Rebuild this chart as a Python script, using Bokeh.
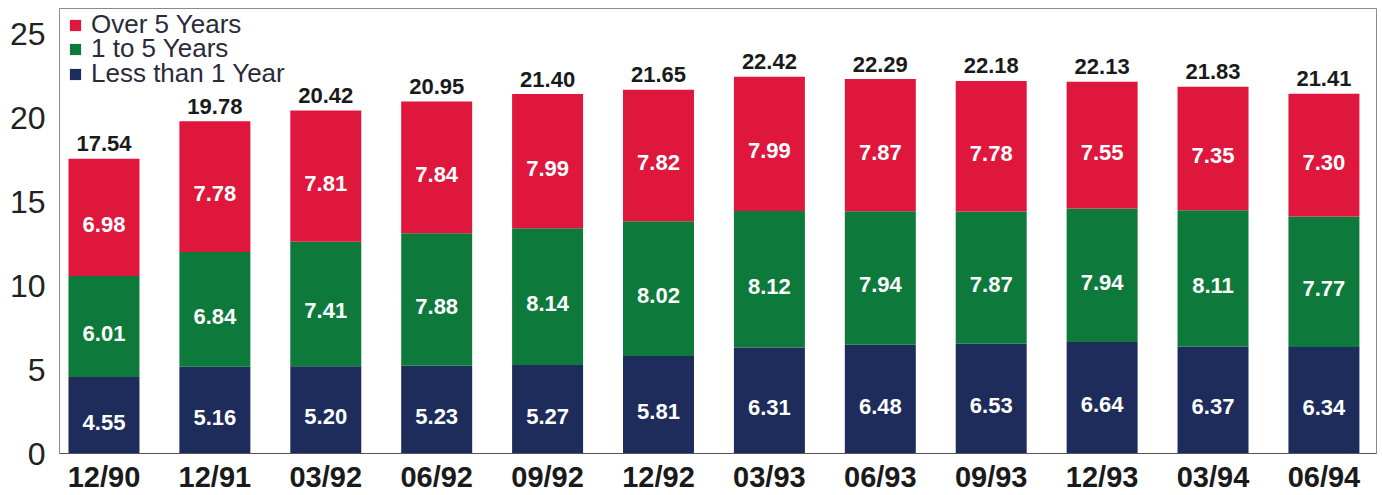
from bokeh.plotting import figure
from bokeh.models import ColumnDataSource, FixedTicker, Legend, LegendItem
from bokeh.core.properties import value
from bokeh.embed import file_html
from bokeh.resources import INLINE

periods = ["12/90", "12/91", "03/92", "06/92", "09/92", "12/92",
           "03/93", "06/93", "09/93", "12/93", "03/94", "06/94"]
less1 = [4.55, 5.16, 5.20, 5.23, 5.27, 5.81, 6.31, 6.48, 6.53, 6.64, 6.37, 6.34]
one5 = [6.01, 6.84, 7.41, 7.88, 8.14, 8.02, 8.12, 7.94, 7.87, 7.94, 8.11, 7.77]
over5 = [6.98, 7.78, 7.81, 7.84, 7.99, 7.82, 7.99, 7.87, 7.78, 7.55, 7.35, 7.30]
totals = [17.54, 19.78, 20.42, 20.95, 21.40, 21.65, 22.42, 22.29, 22.18, 22.13, 21.83, 21.41]
series_names = ["Less than 1 Year", "1 to 5 Years", "Over 5 Years"]
y_ticks = [0, 5, 10, 15, 20, 25]

RED = "#e0173d"
GREEN = "#0d7a3b"
NAVY = "#1d2c5a"
FONT = "Liberation Sans"

xs = list(range(len(periods)))
src = ColumnDataSource(dict(
    x=xs, less1=less1, one5=one5, over5=over5, totals=totals,
    m1=[a / 2 for a in less1],
    m2=[a + b / 2 for a, b in zip(less1, one5)],
    m3=[a + b + c / 2 for a, b, c in zip(less1, one5, over5)],
    t1=[f"{v:.2f}" for v in less1],
    t2=[f"{v:.2f}" for v in one5],
    t3=[f"{v:.2f}" for v in over5],
    tt=[f"{v:.2f}" for v in totals],
))

p = figure(width=1382, height=495, output_backend="svg", toolbar_location=None,
           x_range=(-0.401, 11.474), y_range=(0, 26.49),
           min_border_left=59, min_border_right=6, min_border_top=8, min_border_bottom=42)
p.background_fill_color = "white"
p.border_fill_color = "white"
p.outline_line_color = "#8a8a8a"
p.outline_line_width = 1
p.xgrid.visible = False
p.ygrid.visible = False

rs = p.vbar_stack(["less1", "one5", "over5"], x="x", width=0.64, source=src,
                  color=[NAVY, GREEN, RED], line_color=None)

for col, lab in (("m1", "t1"), ("m2", "t2"), ("m3", "t3")):
    p.text(x="x", y=col, text=lab, source=src, text_align="center",
           text_baseline="middle", y_offset=7, text_color="white",
           text_font=value(FONT), text_font_style="bold", text_font_size="22px")

p.text(x="x", y="totals", text="tt", source=src, text_align="center",
       text_baseline="alphabetic", y_offset=-15, text_color="#1a1a1a",
       text_font=value(FONT), text_font_style="bold", text_font_size="22px")

# one single-row legend per series so that the row pitch matches the original
legend_rows = [(2, 413), (1, 389), (0, 364)]
for idx, ypos in legend_rows:
    lg = Legend(items=[LegendItem(label=series_names[idx], renderers=[rs[idx]])],
                location=(9, ypos), margin=0, padding=0, spacing=0,
                glyph_width=14, glyph_height=14, label_standoff=9,
                label_text_font=FONT, label_text_font_size="26px",
                label_text_color="#2a2a3a",
                background_fill_alpha=0, border_line_alpha=0)
    p.add_layout(lg)

p.xaxis.ticker = FixedTicker(ticks=xs)
p.xaxis.major_label_overrides = {i: s for i, s in enumerate(periods)}
p.xaxis.major_tick_line_color = None
p.xaxis.major_tick_out = 0
p.xaxis.major_tick_in = 0
p.xaxis.minor_tick_line_color = None
p.xaxis.axis_line_color = "#555555"
p.xaxis.major_label_text_font = FONT
p.xaxis.major_label_text_font_style = "bold"
p.xaxis.major_label_text_font_size = "29px"
p.xaxis.major_label_text_color = "#1a1a1a"
p.xaxis.major_label_standoff = 7

p.yaxis.ticker = FixedTicker(ticks=y_ticks)
p.yaxis.major_tick_line_color = None
p.yaxis.major_tick_out = 0
p.yaxis.major_tick_in = 0
p.yaxis.minor_tick_line_color = None
p.yaxis.axis_line_color = None
p.yaxis.major_label_text_font = FONT
p.yaxis.major_label_text_font_size = "32px"
p.yaxis.major_label_text_color = "#222222"
p.yaxis.major_label_standoff = 14

open("out.html", "w").write(file_html(p, INLINE))
